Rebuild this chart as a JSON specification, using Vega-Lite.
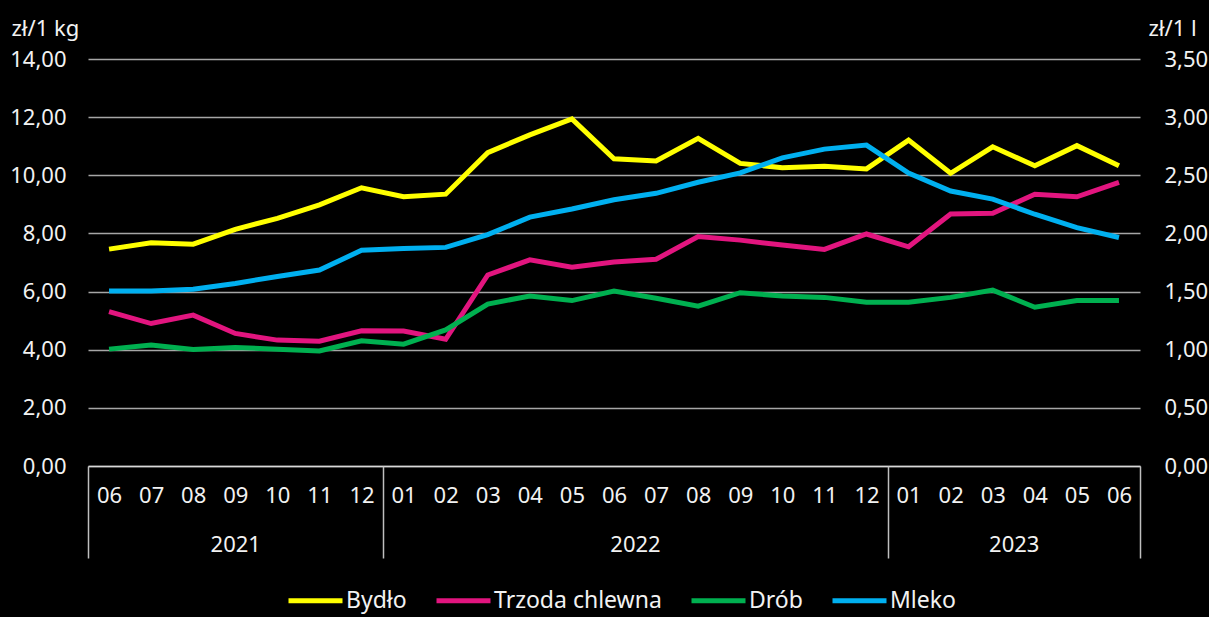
{
  "$schema": "https://vega.github.io/schema/vega-lite/v6.json",
  "width": 1052,
  "height": 407,
  "autosize": {"type": "none"},
  "padding": {"left": 88, "top": 59, "right": 69, "bottom": 151},
  "background": "#000000",
  "config": {
    "view": {"stroke": null},
    "font": "Noto Sans",
    "axis": {"labelFont": "Noto Sans", "titleFont": "Noto Sans", "labelColor": "#f2f2f2", "titleColor": "#f2f2f2", "titleFontWeight": "normal"},
    "legend": {"labelFont": "Noto Sans"}
  },
  "data": {
    "values": [
      {"nr": 1, "okres": "2021-06", "seria": "Bydło", "cena": 7.46},
      {"nr": 2, "okres": "2021-07", "seria": "Bydło", "cena": 7.68},
      {"nr": 3, "okres": "2021-08", "seria": "Bydło", "cena": 7.63},
      {"nr": 4, "okres": "2021-09", "seria": "Bydło", "cena": 8.14},
      {"nr": 5, "okres": "2021-10", "seria": "Bydło", "cena": 8.52},
      {"nr": 6, "okres": "2021-11", "seria": "Bydło", "cena": 8.98},
      {"nr": 7, "okres": "2021-12", "seria": "Bydło", "cena": 9.57},
      {"nr": 8, "okres": "2022-01", "seria": "Bydło", "cena": 9.26},
      {"nr": 9, "okres": "2022-02", "seria": "Bydło", "cena": 9.35},
      {"nr": 10, "okres": "2022-03", "seria": "Bydło", "cena": 10.78},
      {"nr": 11, "okres": "2022-04", "seria": "Bydło", "cena": 11.39},
      {"nr": 12, "okres": "2022-05", "seria": "Bydło", "cena": 11.94},
      {"nr": 13, "okres": "2022-06", "seria": "Bydło", "cena": 10.57},
      {"nr": 14, "okres": "2022-07", "seria": "Bydło", "cena": 10.49},
      {"nr": 15, "okres": "2022-08", "seria": "Bydło", "cena": 11.27},
      {"nr": 16, "okres": "2022-09", "seria": "Bydło", "cena": 10.41},
      {"nr": 17, "okres": "2022-10", "seria": "Bydło", "cena": 10.26},
      {"nr": 18, "okres": "2022-11", "seria": "Bydło", "cena": 10.31},
      {"nr": 19, "okres": "2022-12", "seria": "Bydło", "cena": 10.22},
      {"nr": 20, "okres": "2023-01", "seria": "Bydło", "cena": 11.21},
      {"nr": 21, "okres": "2023-02", "seria": "Bydło", "cena": 10.07},
      {"nr": 22, "okres": "2023-03", "seria": "Bydło", "cena": 10.98},
      {"nr": 23, "okres": "2023-04", "seria": "Bydło", "cena": 10.33},
      {"nr": 24, "okres": "2023-05", "seria": "Bydło", "cena": 11.02},
      {"nr": 25, "okres": "2023-06", "seria": "Bydło", "cena": 10.33},
      {"nr": 1, "okres": "2021-06", "seria": "Trzoda chlewna", "cena": 5.31},
      {"nr": 2, "okres": "2021-07", "seria": "Trzoda chlewna", "cena": 4.90},
      {"nr": 3, "okres": "2021-08", "seria": "Trzoda chlewna", "cena": 5.19},
      {"nr": 4, "okres": "2021-09", "seria": "Trzoda chlewna", "cena": 4.56},
      {"nr": 5, "okres": "2021-10", "seria": "Trzoda chlewna", "cena": 4.33},
      {"nr": 6, "okres": "2021-11", "seria": "Trzoda chlewna", "cena": 4.29},
      {"nr": 7, "okres": "2021-12", "seria": "Trzoda chlewna", "cena": 4.65},
      {"nr": 8, "okres": "2022-01", "seria": "Trzoda chlewna", "cena": 4.64},
      {"nr": 9, "okres": "2022-02", "seria": "Trzoda chlewna", "cena": 4.36},
      {"nr": 10, "okres": "2022-03", "seria": "Trzoda chlewna", "cena": 6.57},
      {"nr": 11, "okres": "2022-04", "seria": "Trzoda chlewna", "cena": 7.09},
      {"nr": 12, "okres": "2022-05", "seria": "Trzoda chlewna", "cena": 6.84},
      {"nr": 13, "okres": "2022-06", "seria": "Trzoda chlewna", "cena": 7.02},
      {"nr": 14, "okres": "2022-07", "seria": "Trzoda chlewna", "cena": 7.11},
      {"nr": 15, "okres": "2022-08", "seria": "Trzoda chlewna", "cena": 7.89},
      {"nr": 16, "okres": "2022-09", "seria": "Trzoda chlewna", "cena": 7.77},
      {"nr": 17, "okres": "2022-10", "seria": "Trzoda chlewna", "cena": 7.60},
      {"nr": 18, "okres": "2022-11", "seria": "Trzoda chlewna", "cena": 7.45},
      {"nr": 19, "okres": "2022-12", "seria": "Trzoda chlewna", "cena": 7.98},
      {"nr": 20, "okres": "2023-01", "seria": "Trzoda chlewna", "cena": 7.54},
      {"nr": 21, "okres": "2023-02", "seria": "Trzoda chlewna", "cena": 8.67},
      {"nr": 22, "okres": "2023-03", "seria": "Trzoda chlewna", "cena": 8.69},
      {"nr": 23, "okres": "2023-04", "seria": "Trzoda chlewna", "cena": 9.35},
      {"nr": 24, "okres": "2023-05", "seria": "Trzoda chlewna", "cena": 9.26},
      {"nr": 25, "okres": "2023-06", "seria": "Trzoda chlewna", "cena": 9.76},
      {"nr": 1, "okres": "2021-06", "seria": "Drób", "cena": 4.02},
      {"nr": 2, "okres": "2021-07", "seria": "Drób", "cena": 4.16},
      {"nr": 3, "okres": "2021-08", "seria": "Drób", "cena": 4.01},
      {"nr": 4, "okres": "2021-09", "seria": "Drób", "cena": 4.08},
      {"nr": 5, "okres": "2021-10", "seria": "Drób", "cena": 4.02},
      {"nr": 6, "okres": "2021-11", "seria": "Drób", "cena": 3.96},
      {"nr": 7, "okres": "2021-12", "seria": "Drób", "cena": 4.31},
      {"nr": 8, "okres": "2022-01", "seria": "Drób", "cena": 4.19},
      {"nr": 9, "okres": "2022-02", "seria": "Drób", "cena": 4.68},
      {"nr": 10, "okres": "2022-03", "seria": "Drób", "cena": 5.57},
      {"nr": 11, "okres": "2022-04", "seria": "Drób", "cena": 5.85},
      {"nr": 12, "okres": "2022-05", "seria": "Drób", "cena": 5.69},
      {"nr": 13, "okres": "2022-06", "seria": "Drób", "cena": 6.02},
      {"nr": 14, "okres": "2022-07", "seria": "Drób", "cena": 5.77},
      {"nr": 15, "okres": "2022-08", "seria": "Drób", "cena": 5.50},
      {"nr": 16, "okres": "2022-09", "seria": "Drób", "cena": 5.96},
      {"nr": 17, "okres": "2022-10", "seria": "Drób", "cena": 5.85},
      {"nr": 18, "okres": "2022-11", "seria": "Drób", "cena": 5.80},
      {"nr": 19, "okres": "2022-12", "seria": "Drób", "cena": 5.63},
      {"nr": 20, "okres": "2023-01", "seria": "Drób", "cena": 5.63},
      {"nr": 21, "okres": "2023-02", "seria": "Drób", "cena": 5.80},
      {"nr": 22, "okres": "2023-03", "seria": "Drób", "cena": 6.05},
      {"nr": 23, "okres": "2023-04", "seria": "Drób", "cena": 5.46},
      {"nr": 24, "okres": "2023-05", "seria": "Drób", "cena": 5.69},
      {"nr": 25, "okres": "2023-06", "seria": "Drób", "cena": 5.69},
      {"nr": 1, "okres": "2021-06", "seria": "Mleko", "cena": 1.505},
      {"nr": 2, "okres": "2021-07", "seria": "Mleko", "cena": 1.505},
      {"nr": 3, "okres": "2021-08", "seria": "Mleko", "cena": 1.52},
      {"nr": 4, "okres": "2021-09", "seria": "Mleko", "cena": 1.57},
      {"nr": 5, "okres": "2021-10", "seria": "Mleko", "cena": 1.63},
      {"nr": 6, "okres": "2021-11", "seria": "Mleko", "cena": 1.685},
      {"nr": 7, "okres": "2021-12", "seria": "Mleko", "cena": 1.855},
      {"nr": 8, "okres": "2022-01", "seria": "Mleko", "cena": 1.87},
      {"nr": 9, "okres": "2022-02", "seria": "Mleko", "cena": 1.88},
      {"nr": 10, "okres": "2022-03", "seria": "Mleko", "cena": 1.99},
      {"nr": 11, "okres": "2022-04", "seria": "Mleko", "cena": 2.14},
      {"nr": 12, "okres": "2022-05", "seria": "Mleko", "cena": 2.21},
      {"nr": 13, "okres": "2022-06", "seria": "Mleko", "cena": 2.29},
      {"nr": 14, "okres": "2022-07", "seria": "Mleko", "cena": 2.345},
      {"nr": 15, "okres": "2022-08", "seria": "Mleko", "cena": 2.44},
      {"nr": 16, "okres": "2022-09", "seria": "Mleko", "cena": 2.52},
      {"nr": 17, "okres": "2022-10", "seria": "Mleko", "cena": 2.65},
      {"nr": 18, "okres": "2022-11", "seria": "Mleko", "cena": 2.725},
      {"nr": 19, "okres": "2022-12", "seria": "Mleko", "cena": 2.76},
      {"nr": 20, "okres": "2023-01", "seria": "Mleko", "cena": 2.52},
      {"nr": 21, "okres": "2023-02", "seria": "Mleko", "cena": 2.365},
      {"nr": 22, "okres": "2023-03", "seria": "Mleko", "cena": 2.295},
      {"nr": 23, "okres": "2023-04", "seria": "Mleko", "cena": 2.165},
      {"nr": 24, "okres": "2023-05", "seria": "Mleko", "cena": 2.05},
      {"nr": 25, "okres": "2023-06", "seria": "Mleko", "cena": 1.965}
    ]
  },
  "layer": [
    {
      "transform": [{"filter": "datum.seria != 'Mleko'"}],
      "mark": {"type": "line", "strokeWidth": 5, "strokeJoin": "miter"},
      "encoding": {
        "x": {
          "field": "nr", "type": "quantitative",
          "scale": {"domain": [0.5, 25.5], "nice": false, "zero": false},
          "axis": {
            "orient": "bottom",
            "title": null,
            "values": [1,2,3,4,5,6,7,8,9,10,11,12,13,14,15,16,17,18,19,20,21,22,23,24,25],
            "labelExpr": "((((datum.value + 4) % 12) + 1) < 10 ? '0' : '') + (((datum.value + 4) % 12) + 1)",
            "ticks": false,
            "grid": false,
            "domain": true,
            "domainColor": "#d9d9d9",
            "domainWidth": 1.5,
            "labelFontSize": 22,
            "labelPadding": 19,
            "labelFlush": false,
            "labelOverlap": false,
            "labelBound": false
          }
        },
        "y": {
          "field": "cena", "type": "quantitative",
          "scale": {"domain": [0, 14], "nice": false},
          "axis": {
            "orient": "left",
            "values": [0, 2, 4, 6, 8, 10, 12, 14],
            "labelExpr": "replace(format(datum.value, '.2f'), '.', ',')",
            "ticks": false,
            "domain": false,
            "grid": true,
            "gridColor": "#a6a6a6",
            "gridWidth": 1.5,
            "labelFontSize": 22,
            "labelPadding": 22,
            "title": "zł/1 kg",
            "titleAngle": 0,
            "titleFontSize": 22,
            "titleAlign": "left",
            "titleBaseline": "middle",
            "titleX": -77,
            "titleY": -31
          }
        },
        "color": {
          "field": "seria", "type": "nominal",
          "scale": {"domain": ["Bydło", "Trzoda chlewna", "Drób", "Mleko"], "range": ["#ffff00", "#e2157f", "#00b050", "#00b0f0"]},
          "legend": {
            "title": null,
            "orient": "none",
            "direction": "horizontal",
            "legendX": 198,
            "legendY": 512,
            "symbolType": "stroke",
            "symbolSize": 2916,
            "symbolStrokeWidth": 5,
            "labelFontSize": 23,
            "labelColor": "#f2f2f2",
            "labelOffset": 1,
            "columnPadding": 19,
            "labelLimit": 400
          }
        }
      }
    },
    {
      "transform": [{"filter": "datum.seria == 'Mleko'"}],
      "mark": {"type": "line", "strokeWidth": 5, "strokeJoin": "miter"},
      "encoding": {
        "x": {
          "field": "nr", "type": "quantitative",
          "scale": {"domain": [0.5, 25.5], "nice": false, "zero": false},
          "axis": {
            "orient": "bottom",
            "title": null,
            "values": [0.5, 4, 7.5, 13.5, 19.5, 22.5, 25.5],
            "labelExpr": "datum.value == 4 ? '2021' : datum.value == 13.5 ? '2022' : datum.value == 22.5 ? '2023' : ''",
            "ticks": true,
            "tickSize": 92,
            "tickWidth": 1.5,
            "tickColor": "#bfbfbf",
            "tickOpacity": {"condition": {"test": "datum.value == 4 || datum.value == 13.5 || datum.value == 22.5", "value": 0}, "value": 1},
            "grid": false,
            "domain": false,
            "labelFontSize": 22,
            "labelPadding": -24,
            "labelFlush": false,
            "labelOverlap": false,
            "labelBound": false
          }
        },
        "y": {
          "field": "cena", "type": "quantitative",
          "scale": {"domain": [0, 3.5], "nice": false},
          "axis": {
            "orient": "right",
            "values": [0, 0.5, 1, 1.5, 2, 2.5, 3, 3.5],
            "labelExpr": "replace(format(datum.value, '.2f'), '.', ',')",
            "ticks": false,
            "domain": false,
            "grid": false,
            "labelFontSize": 22,
            "labelPadding": 24,
            "labelAlign": "left",
            "title": "zł/1 l",
            "titleAngle": 0,
            "titleFontSize": 22,
            "titleAlign": "left",
            "titleBaseline": "middle",
            "titleX": 8,
            "titleY": -31
          }
        },
        "color": {
          "field": "seria", "type": "nominal",
          "scale": {"domain": ["Bydło", "Trzoda chlewna", "Drób", "Mleko"], "range": ["#ffff00", "#e2157f", "#00b050", "#00b0f0"]}
        }
      }
    }
  ],
  "resolve": {"scale": {"y": "independent"}, "axis": {"x": "independent"}}
}
